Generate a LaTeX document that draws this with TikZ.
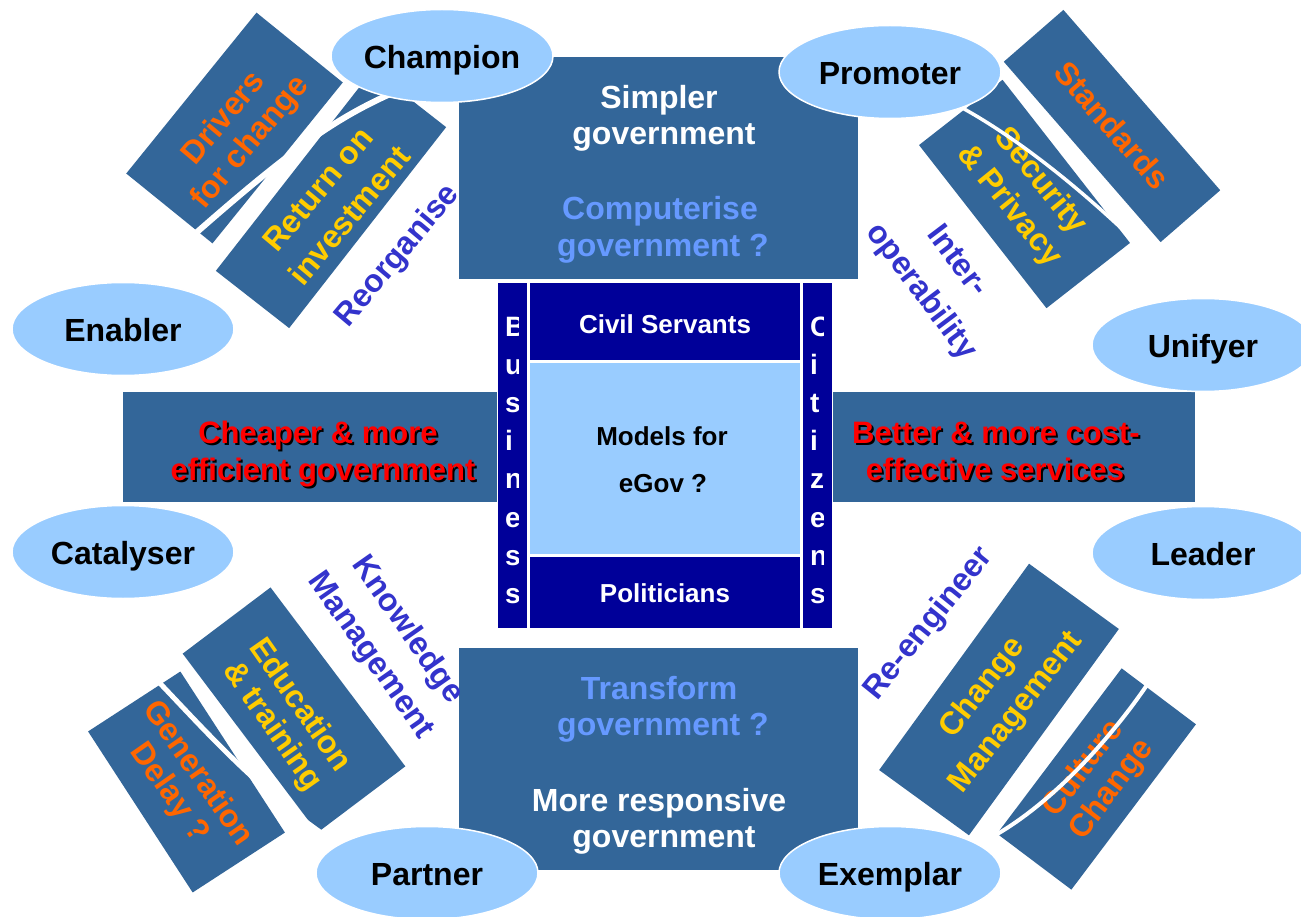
\documentclass[tikz,border=0pt]{standalone}
\usepackage{fontspec}
\setmainfont{Liberation Sans}
\usetikzlibrary{shapes.geometric}
\definecolor{boxblue}{HTML}{336699}
\definecolor{ellblue}{HTML}{99CCFF}
\definecolor{navyblk}{HTML}{000099}
\definecolor{paleblue}{HTML}{6699FF}
\definecolor{orangetxt}{HTML}{FF6600}
\definecolor{yellowtxt}{HTML}{FFCC00}
\definecolor{violettxt}{HTML}{3333CC}
\definecolor{redtxt}{HTML}{FF0000}
\begin{document}
\begin{tikzpicture}[x=1pt,y=-1pt,
  panel/.style={fill=boxblue, draw=none, inner sep=0pt, outer sep=0pt},
  slab/.style={fill=boxblue, draw=none, inner sep=0pt, outer sep=0pt},
  navybox/.style={fill=navyblk, draw=white, line width=1pt, inner sep=0pt},
  lightbox/.style={fill=ellblue, draw=white, line width=1pt, inner sep=0pt},
  role/.style={ellipse, fill=ellblue, draw=white, line width=1.5pt, minimum width=222pt, minimum height=93pt, inner sep=0pt, text height=25pt, text depth=0pt, font=\fontsize{32}{36}\selectfont\bfseries, text=black},
  lbl/.style={inner sep=0pt, font=\fontsize{32}{36}\selectfont\bfseries},
  flat/.style={inner sep=0pt, text height=23pt, text depth=0pt, font=\fontsize{32}{36}\selectfont\bfseries},
  mid/.style={inner sep=0pt, text height=19pt, text depth=0pt, font=\fontsize{26}{30}\selectfont\bfseries},
  letter/.style={inner sep=0pt, anchor=base west, text=white, font=\fontsize{28}{30}\selectfont\bfseries},
  redlbl/.style={inner sep=0pt, text height=22pt, text depth=0pt, font=\fontsize{31}{36}\selectfont\bfseries, text=redtxt},
  shadowlbl/.style={inner sep=0pt, text height=22pt, text depth=0pt, font=\fontsize{31}{36}\selectfont\bfseries, text=black},
  cut/.style={draw=white, line cap=butt}
]
\useasboundingbox[fill=white] (0,0) rectangle (1301,917);

% main panels
\node[panel, minimum width=399pt, minimum height=222pt] (toppanel) at (658.5,168) {};
\node[panel, minimum width=399pt, minimum height=222pt] (botpanel) at (658.5,759) {};
\node[panel, minimum width=385pt, minimum height=110pt] (leftpanel) at (315.5,447) {};
\node[panel, minimum width=375pt, minimum height=110pt] (rightpanel) at (1007.5,447) {};

% tilted slabs
\node[slab, minimum width=207pt, minimum height=111pt, rotate=51] (drvslab) at (234.5,128) {};
\node[slab, minimum width=255pt, minimum height=93pt, rotate=52] (roislab) at (331,199) {};
\node[slab, minimum width=239pt, minimum height=79pt, rotate=-49] (stdslab) at (1112,126) {};
\node[slab, minimum width=207pt, minimum height=106pt, rotate=-52] (secslab) at (1024.5,194) {};
\node[slab, minimum width=224pt, minimum height=110pt, rotate=-53] (eduslab) at (294,710) {};
\node[slab, minimum width=192pt, minimum height=110pt, rotate=-57] (genslab) at (186.5,782) {};
\node[slab, minimum width=255pt, minimum height=111pt, rotate=54] (chgslab) at (999,699.5) {};
\node[slab, minimum width=207pt, minimum height=93pt, rotate=53] (culslab) at (1096.5,779) {};

% white cuts (under text)
\coordinate (tla) at (397,91);
\coordinate (tlb) at (188,240);
\draw[cut, line width=6pt] (tla) .. controls (335,118) and (290,150) .. (tlb);
\coordinate (bla) at (153,676);
\coordinate (blb) at (352,853);
\draw[cut, line width=5pt] (bla) .. controls (205,730) and (265,800) .. (blb);

% tilted labels
\node[lbl, text=orangetxt, rotate=50] (drivers) at (222,117) {Drivers};
\node[lbl, text=orangetxt, rotate=50] (forchange) at (251,143) {for change};
\node[lbl, text=yellowtxt, rotate=50] (returnon) at (318,189) {Return on};
\node[lbl, text=yellowtxt, rotate=50] (invest) at (349,215) {investment};
\node[lbl, text=violettxt, rotate=50] (reorg) at (398,256) {Reorganise};
\node[lbl, text=orangetxt, rotate=-49] (standards) at (1112,125) {Standards};
\node[lbl, text=yellowtxt, rotate=-51] (security) at (1040,181) {Security};
\node[lbl, text=yellowtxt, rotate=-51] (privacy) at (1009,206) {\& Privacy};
\node[lbl, text=violettxt, rotate=-53] (inter) at (959,260) {Inter-};
\node[lbl, text=violettxt, rotate=-53] (operab) at (921,292) {operability};
\node[lbl, text=yellowtxt, rotate=-55] (educ) at (302,704) {Education};
\node[lbl, text=yellowtxt, rotate=-55] (train) at (272,727) {\& training};
\node[lbl, text=orangetxt, rotate=-55] (gener) at (200,772) {Generation};
\node[lbl, text=orangetxt, rotate=-55] (delay) at (169,793) {Delay ?};
\node[lbl, text=violettxt, rotate=-55] (know) at (407,630) {Knowledge};
\node[lbl, text=violettxt, rotate=-55] (kmgmt) at (370,656) {Management};
\node[lbl, text=yellowtxt, rotate=52] (chg) at (983,688) {Change};
\node[lbl, text=yellowtxt, rotate=52] (cmgmt) at (1017,713) {Management};
\node[lbl, text=orangetxt, rotate=53] (culture) at (1081,767) {Culture};
\node[lbl, text=orangetxt, rotate=53] (cchange) at (1112,790) {Change};
\node[lbl, text=violettxt, rotate=51] (reeng) at (929,624) {Re-engineer};

% white cuts over text
\coordinate (tra) at (955,104);
\coordinate (trb) at (1141,247);
\draw[cut, line width=3.5pt] (tra) .. controls (1010,133) and (1075,183) .. (trb);
\coordinate (bra) at (1149,682);
\coordinate (brb) at (992,837);
\draw[cut, line width=4pt] (bra) .. controls (1110,740) and (1050,805) .. (brb);

% panel texts
\node[flat, text=white] (simpler) at (659,97) {Simpler};
\node[flat, text=white] (simplergov) at (664,133) {government};
\node[flat, text=paleblue] (computerise) at (660,208) {Computerise};
\node[flat, text=paleblue] (computegov) at (663,245) {government ?};
\node[flat, text=paleblue] (transform) at (659,688) {Transform};
\node[flat, text=paleblue] (transformgov) at (663,724) {government ?};
\node[flat, text=white] (responsive) at (659,800) {More responsive};
\node[flat, text=white] (responsivegov) at (664,836) {government};

\node[shadowlbl] (cheapshadow) at (320,434) {Cheaper \& more};
\node[redlbl] (cheap) at (318,432) {Cheaper \& more};
\node[shadowlbl] (effshadow) at (325,471) {efficient government};
\node[redlbl] (eff) at (323,469) {efficient government};
\node[shadowlbl] (bettershadow) at (998,434) {Better \& more cost-};
\node[redlbl] (better) at (996,432) {Better \& more cost-};
\node[shadowlbl] (effectshadow) at (997,471) {effective services};
\node[redlbl] (effect) at (995,469) {effective services};

% roles
\node[role] (champion) at (442,56) {Champion};
\node[role] (promoter) at (890,72) {Promoter};
\node[role] (enabler) at (123,329) {Enabler};
\node[role] (unifyer) at (1203,345) {Unifyer};
\node[role] (catalyser) at (123,552) {Catalyser};
\node[role] (leader) at (1203,553) {Leader};
\node[role] (partner) at (427,873) {Partner};
\node[role] (exemplar) at (890,873) {Exemplar};

% centre block
\node[navybox, minimum width=30pt, minimum height=345pt] (business) at (512,455.5) {};
\node[navybox, minimum width=30pt, minimum height=345pt] (citizens) at (817,455.5) {};
\node[navybox, minimum width=271pt, minimum height=77pt] (civil) at (664.5,321.5) {};
\node[lightbox, minimum width=271pt, minimum height=192pt] (models) at (664.5,458) {};
\node[navybox, minimum width=271pt, minimum height=72pt] (politicians) at (664.5,592) {};

\node[mid, text=white] (civiltxt) at (665,324) {Civil Servants};
\node[mid, text=black] (modelstxt) at (662,436) {Models for};
\node[mid, text=black] (egovtxt) at (663,483) {eGov ?};
\node[mid, text=white] (polittxt) at (665,593) {Politicians};

\begin{scope}
\clip (497,283) rectangle (518.5,628);
\node[letter] (b1) at (505,336) {B};
\node[letter] (b2) at (505,374) {u};
\node[letter] (b3) at (505,412) {s};
\node[letter] (b4) at (505,450) {i};
\node[letter] (b5) at (505,488) {n};
\node[letter] (b6) at (505,527) {e};
\node[letter] (b7) at (505,565) {s};
\node[letter] (b8) at (505,603) {s};
\end{scope}
\begin{scope}
\clip (802,283) rectangle (823.5,628);
\node[letter] (c1) at (810,336) {C};
\node[letter] (c2) at (810,374) {i};
\node[letter] (c3) at (810,412) {t};
\node[letter] (c4) at (810,450) {i};
\node[letter] (c5) at (810,488) {z};
\node[letter] (c6) at (810,527) {e};
\node[letter] (c7) at (810,565) {n};
\node[letter] (c8) at (810,603) {s};
\end{scope}
\end{tikzpicture}
\end{document}
